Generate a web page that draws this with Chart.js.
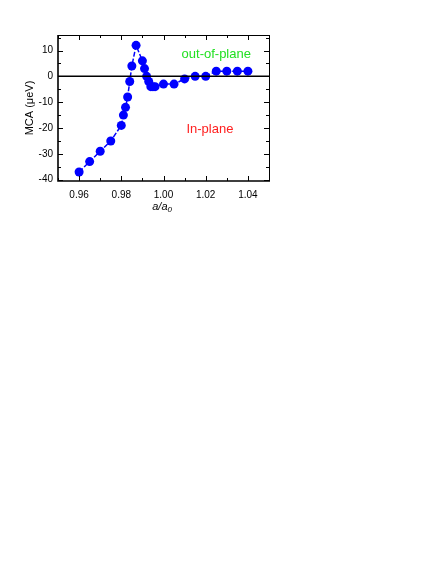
<!DOCTYPE html>
<html>
<head>
<meta charset="utf-8">
<script src="https://cdn.jsdelivr.net/npm/chart.js@4/dist/chart.umd.min.js"></script>
<style>
  body { margin: 0; background: #fff; }
  #wrap { position: relative; width: 436px; height: 564px; }
</style>
</head>
<body>
<div id="wrap"><canvas id="mcaChart" width="436" height="564"></canvas></div>
<script>
// lattice ratio a/a0 and MCA (ueV)
var ratio = [0.960, 0.965, 0.970, 0.975, 0.980, 0.981, 0.982, 0.983, 0.984, 0.985, 0.987,
             0.990, 0.991, 0.992, 0.993, 0.994, 0.995, 0.996, 1.000, 1.005, 1.010, 1.015,
             1.020, 1.025, 1.030, 1.035, 1.040];
var mca = [-37, -33, -29, -25, -19, -15, -12, -8, -2, 4, 12,
           6, 3, 0, -2, -4, -4, -4, -3, -3, -1, 0,
           0, 2, 2, 2, 2];
var xTicks = [0.96, 0.98, 1.00, 1.02, 1.04];
var xMinor = [0.95, 0.97, 0.99, 1.01, 1.03, 1.05];
var yTicks = [-40, -30, -20, -10, 0, 10];
var yMinor = [-35, -25, -15, -5, 5, 15];

var points = [];
for (var i = 0; i < ratio.length; i++) {
    points.push({ x: ratio[i], y: mca[i] });
}

// frame, inward ticks, zero line and labels
var framePlugin = {
    id: 'frame',
    afterDatasetsDraw: function (chart) {
        var ctx = chart.ctx;
        var a = chart.chartArea;
        var xs = chart.scales.x, ys = chart.scales.y;
        ctx.save();
        ctx.strokeStyle = '#000';
        ctx.lineWidth = 1;
        ctx.beginPath();
        ctx.moveTo(a.left, a.top + 0.5); ctx.lineTo(a.right + 0.5, a.top + 0.5);
        ctx.lineTo(a.right + 0.5, a.bottom);
        ctx.stroke();
        ctx.lineWidth = 1.6;
        ctx.beginPath();
        ctx.moveTo(a.left, a.top); ctx.lineTo(a.left, a.bottom); ctx.lineTo(a.right + 1, a.bottom);
        ctx.stroke();

        ctx.lineWidth = 1;
        ctx.beginPath();
        xTicks.forEach(function (v) {
            var px = Math.round(xs.getPixelForValue(v)) + 0.5;
            ctx.moveTo(px, a.bottom); ctx.lineTo(px, a.bottom - 5);
            ctx.moveTo(px, a.top); ctx.lineTo(px, a.top + 5);
        });
        xMinor.forEach(function (v) {
            var px = Math.round(xs.getPixelForValue(v)) + 0.5;
            ctx.moveTo(px, a.bottom); ctx.lineTo(px, a.bottom - 3);
            ctx.moveTo(px, a.top); ctx.lineTo(px, a.top + 3);
        });
        yTicks.forEach(function (v) {
            var py = Math.round(ys.getPixelForValue(v)) + 0.5;
            ctx.moveTo(a.left, py); ctx.lineTo(a.left + 5, py);
            ctx.moveTo(a.right, py); ctx.lineTo(a.right - 5, py);
        });
        yMinor.forEach(function (v) {
            var py = Math.round(ys.getPixelForValue(v)) + 0.5;
            ctx.moveTo(a.left, py); ctx.lineTo(a.left + 3, py);
            ctx.moveTo(a.right, py); ctx.lineTo(a.right - 3, py);
        });
        ctx.stroke();

        ctx.lineWidth = 1.5;
        ctx.beginPath();
        var y0 = ys.getPixelForValue(0);
        ctx.moveTo(a.left, y0); ctx.lineTo(a.right, y0);
        ctx.stroke();

        ctx.font = '13px "Liberation Sans", Arial, sans-serif';
        ctx.textAlign = 'center';
        ctx.textBaseline = 'middle';
        ctx.fillStyle = '#22e022';
        ctx.fillText('out-of-plane', xs.getPixelForValue(1.025), ys.getPixelForValue(8.6));
        ctx.fillStyle = '#ff2020';
        ctx.fillText('In-plane', xs.getPixelForValue(1.022), ys.getPixelForValue(-20.5));

        // x title a/a0
        var cx = (a.left + a.right) / 2;
        ctx.fillStyle = '#000';
        ctx.font = 'italic 11px "Liberation Sans", Arial, sans-serif';
        ctx.textAlign = 'right';
        ctx.fillText('a/a', cx + 4, a.bottom + 26);
        ctx.font = 'italic 8px "Liberation Sans", Arial, sans-serif';
        ctx.textAlign = 'left';
        ctx.fillText('0', cx + 4, a.bottom + 29);

        // y title
        ctx.font = '11px "Liberation Sans", Arial, sans-serif';
        ctx.textAlign = 'center';
        ctx.translate(a.left - 28, (a.top + a.bottom) / 2);
        ctx.rotate(-Math.PI / 2);
        ctx.fillText('MCA (\u03bceV)', 0, 0);
        ctx.restore();
    }
};

var mcaChart = new Chart(document.getElementById('mcaChart'), {
    type: 'scatter',
    data: {
        datasets: [{
            data: points,
            showLine: true,
            borderColor: '#0000ff',
            backgroundColor: '#0000ff',
            borderWidth: 1.5,
            borderDash: [5, 2],
            pointRadius: 4.5,
            pointHoverRadius: 4.5,
            pointBorderWidth: 0
        }]
    },
    options: {
        responsive: false,
        animation: false,
        events: [],
        layout: { padding: { left: 0, top: 35, right: 167, bottom: 343 } },
        plugins: { legend: { display: false }, tooltip: { enabled: false } },
        scales: {
            x: {
                type: 'linear',
                min: 0.95,
                max: 1.05,
                afterBuildTicks: function (s) { s.ticks = xTicks.map(function (v) { return { value: v }; }); },
                afterFit: function (s) { s.height = 40; },
                grid: { display: false, drawTicks: false },
                border: { display: false },
                ticks: {
                    color: '#000',
                    padding: 8,
                    font: { family: '"Liberation Sans", Arial, sans-serif', size: 10 },
                    callback: function (v) { return Number(v).toFixed(2); }
                }
            },
            y: {
                min: -40.5,
                max: 16,
                afterBuildTicks: function (s) { s.ticks = yTicks.map(function (v) { return { value: v }; }); },
                afterFit: function (s) { s.width = 58; },
                grid: { display: false, drawTicks: false },
                border: { display: false },
                ticks: {
                    color: '#000',
                    padding: 5,
                    font: { family: '"Liberation Sans", Arial, sans-serif', size: 10 }
                }
            }
        }
    },
    plugins: [framePlugin]
});
</script>
</body>
</html>
